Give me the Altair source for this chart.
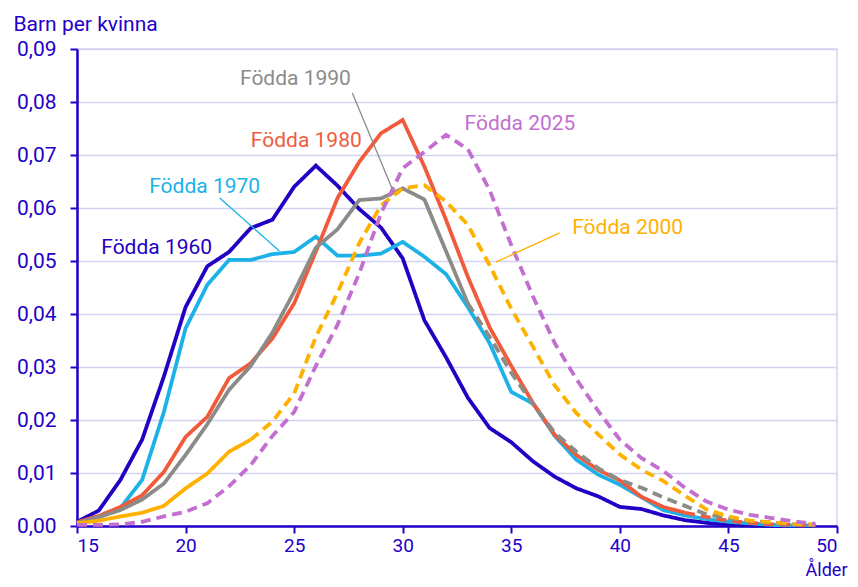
import altair as alt
import pandas as pd

ages = list(range(15, 50))

series = ["Födda 1960", "Födda 1970", "Födda 1980", "Födda 1990", "Födda 2000", "Födda 2025"]
colors = ["#2300c3", "#1cb2e8", "#f15b3c", "#8b8b87", "#ffb100", "#c26fd0"]

v1960 = [0.0008, 0.0029, 0.0087, 0.0163, 0.0282, 0.0413, 0.049, 0.0517, 0.0562, 0.0578,
         0.064, 0.068, 0.0642, 0.0598, 0.0563, 0.0505, 0.0388, 0.0318, 0.0242, 0.0185,
         0.0158, 0.0122, 0.0093, 0.0071, 0.0056, 0.0036, 0.0032, 0.002, 0.0011, 0.0006,
         0.0002, 0.0001, 0.0, 0.0, 0.0]
v1970 = [0.0006, 0.0016, 0.0034, 0.0087, 0.0215, 0.0373, 0.0455, 0.0502, 0.0502, 0.0513,
         0.0517, 0.0546, 0.051, 0.051, 0.0514, 0.0536, 0.0508, 0.0475, 0.0413, 0.0345,
         0.0253, 0.0231, 0.017, 0.0125, 0.0097, 0.0078, 0.0054, 0.003, 0.002, 0.0013,
         0.0008, 0.0005, 0.0002, 0.0001, 0.0001]
v1980 = [0.0007, 0.0019, 0.0036, 0.0058, 0.0102, 0.0168, 0.0206, 0.0279, 0.0307, 0.0354,
         0.042, 0.0518, 0.0619, 0.0687, 0.0741, 0.0766, 0.0678, 0.0577, 0.047, 0.0375,
         0.0302, 0.0232, 0.0172, 0.0134, 0.0106, 0.0086, 0.0055, 0.0036, 0.0025, 0.0017,
         0.001, 0.0006, 0.0003, 0.0002, 0.0001]
v1990 = [0.0005, 0.0017, 0.003, 0.005, 0.008, 0.0134, 0.0192, 0.0257, 0.0302, 0.0365,
         0.0442, 0.0525, 0.056, 0.0615, 0.0618, 0.0637, 0.0616, 0.0518, 0.042, 0.0357,
         0.0289, 0.023, 0.0176, 0.014, 0.0109, 0.0087, 0.0072, 0.0054, 0.0038, 0.0022,
         0.0015, 0.0009, 0.0006, 0.0003, 0.0002]
v2000 = [0.0005, 0.001, 0.0018, 0.0025, 0.0038, 0.0071, 0.0099, 0.014, 0.0163, 0.0197,
         0.025, 0.0357, 0.044, 0.0534, 0.0605, 0.0637, 0.0643, 0.0612, 0.0568, 0.0492,
         0.041, 0.0338, 0.0265, 0.0213, 0.0173, 0.0135, 0.0106, 0.0085, 0.0057, 0.0031,
         0.0018, 0.001, 0.0007, 0.0004, 0.0003]
v2025 = [0.0002, 0.0002, 0.0003, 0.0008, 0.0018, 0.0027, 0.0043, 0.0075, 0.0115, 0.017,
         0.0215, 0.0302, 0.038, 0.0477, 0.059, 0.0675, 0.0706, 0.0738, 0.0711, 0.0634,
         0.053, 0.0433, 0.0345, 0.0277, 0.0217, 0.0163, 0.0128, 0.0104, 0.0072, 0.0046,
         0.0031, 0.0021, 0.0015, 0.0009, 0.0004]

# last age with observed (solid) data; after it the line is a projection (dashed)
last_observed = [49, 49, 43, 33, 23, 14]

# label positions (age, value) and leader lines
label_age = [18.67, 20.88, 25.56, 25.06, 40.36, 35.4]
label_val = [0.0525, 0.0640, 0.0726, 0.0843, 0.0562, 0.0758]
leader_series = ["Födda 1970", "Födda 1990", "Födda 2000"]
leader_x1 = [21.57, 27.68, 37.23]
leader_y1 = [0.0619, 0.0817, 0.0553]
leader_x2 = [24.32, 29.52, 34.29]
leader_y2 = [0.0519, 0.0636, 0.0498]

all_values = [v1960, v1970, v1980, v1990, v2000, v2025]
rows = []
for s, vals, last in zip(series, all_values, last_observed):
    for a, v in zip(ages, vals):
        if a <= last:
            rows.append({"series": s, "age": a, "value": v, "part": "obs", "key": s + "obs"})
        if a >= last:
            rows.append({"series": s, "age": a, "value": v, "part": "proj", "key": s + "proj"})
df = pd.DataFrame(rows)

labels_df = pd.DataFrame({"series": series, "age": label_age, "value": label_val})
leaders_df = pd.DataFrame({"series": leader_series, "x1": leader_x1, "y1": leader_y1,
                           "x2": leader_x2, "y2": leader_y2})

AXIS_BLUE = "#2400c8"
GRID = "#d3d3f1"

xscale = alt.Scale(domain=[15, 50], nice=False)
yscale = alt.Scale(domain=[0, 0.09], nice=False)
cscale = alt.Scale(domain=series, range=colors)

x_axis = alt.Axis(values=[15, 20, 25, 30, 35, 40, 45, 50], title="Ålder", grid=False,
                  titleX=770, titleY=53, titleAlign="right", titleBaseline="bottom",
                  titleFontSize=18, labelPadding=3, labelFontSize=19)
y_axis = alt.Axis(values=[0, 0.01, 0.02, 0.03, 0.04, 0.05, 0.06, 0.07, 0.08, 0.09],
                  labelExpr="replace(format(datum.value, '.2f'), '.', ',')",
                  title="Barn per kvinna", titleAngle=0, titleX=-64, titleY=-19,
                  titleAlign="left", titleBaseline="alphabetic", grid=True, labelPadding=14)

lines = alt.Chart(df).mark_line(strokeWidth=3.8, strokeCap="butt").encode(
    x=alt.X("age:Q", scale=xscale, axis=x_axis),
    y=alt.Y("value:Q", scale=yscale, axis=y_axis),
    color=alt.Color("series:N", scale=cscale, legend=None),
    strokeDash=alt.StrokeDash("part:N", scale=alt.Scale(domain=["obs", "proj"], range=[[1, 0], [10, 6]]), legend=None),
    detail="key:N",
)

leaders = alt.Chart(leaders_df).mark_rule(strokeWidth=1.3).encode(
    x="x1:Q", y="y1:Q", x2="x2:Q", y2="y2:Q",
    color=alt.Color("series:N", scale=cscale, legend=None),
)

texts = alt.Chart(labels_df).mark_text(fontSize=21, font="Roboto", align="center", baseline="middle").encode(
    x="age:Q", y="value:Q", text="series:N",
    color=alt.Color("series:N", scale=cscale, legend=None),
)

chart = alt.layer(lines, leaders, texts).properties(
    width=760, height=477,
    padding={"left": 69, "top": 41, "right": 12, "bottom": 53},
    autosize=alt.AutoSizeParams(type="none"),
).configure(font="Roboto").configure_view(stroke=GRID, strokeWidth=1.5).configure_axis(
    domainColor=AXIS_BLUE, domainWidth=2.5, tickColor=AXIS_BLUE, tickWidth=2, tickSize=7,
    labelColor=AXIS_BLUE, labelFontSize=21, labelFont="Roboto",
    titleColor=AXIS_BLUE, titleFontSize=21, titleFontWeight="normal", titleFont="Roboto",
    gridColor=GRID, gridWidth=1.5,
)

chart.save("out.html", embed_options={"renderer": "svg", "actions": False})
